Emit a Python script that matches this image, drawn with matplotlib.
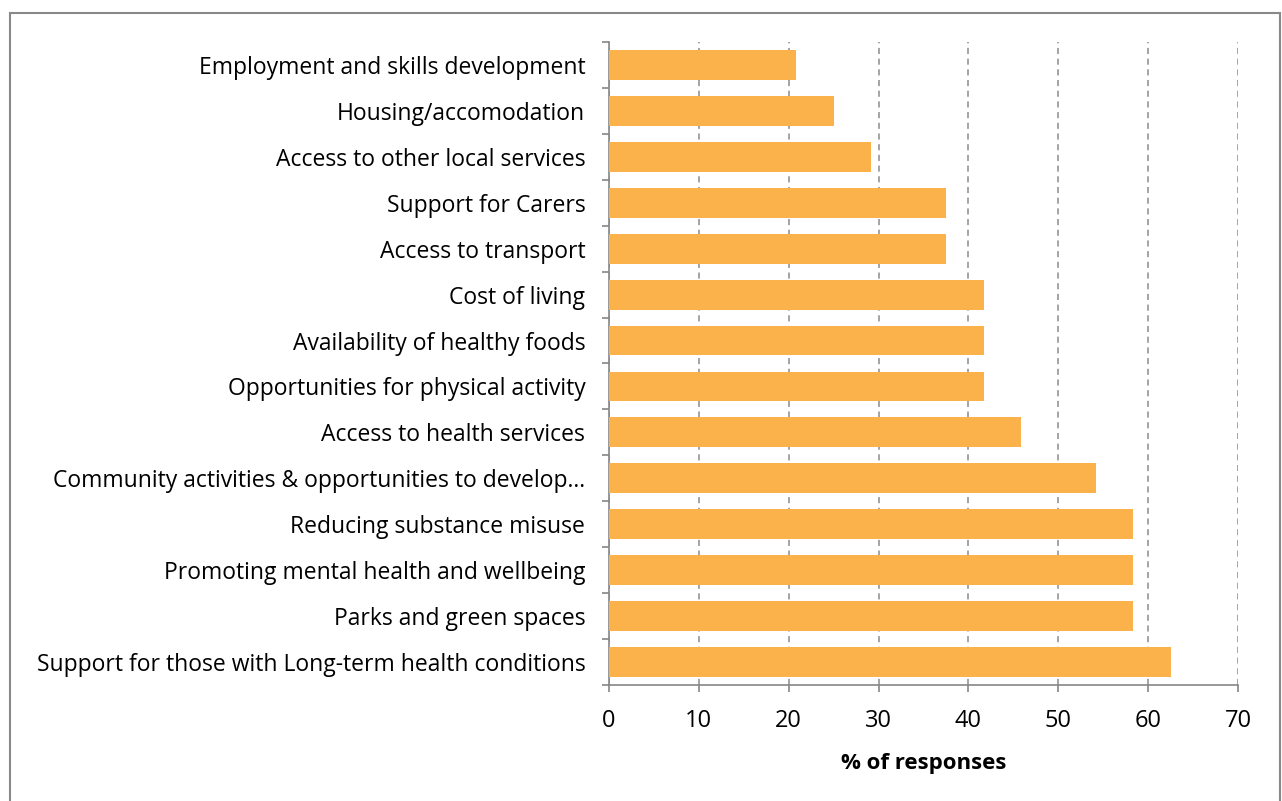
import matplotlib
matplotlib.use("Agg")
import matplotlib.pyplot as plt
from matplotlib.patches import Rectangle

# categories listed top to bottom
categories = [
    "Employment and skills development",
    "Housing/accomodation",
    "Access to other local services",
    "Support for Carers",
    "Access to transport",
    "Cost of living",
    "Availability of healthy foods",
    "Opportunities for physical activity",
    "Access to health services",
    "Community activities & opportunities to develop\u2026",
    "Reducing substance misuse",
    "Promoting mental health and wellbeing",
    "Parks and green spaces",
    "Support for those with Long-term health conditions",
]
percent = [20.8, 25.0, 29.2, 37.5, 37.5, 41.7, 41.7, 41.7, 45.8, 54.2, 58.3, 58.3, 58.3, 62.5]
x_ticks = [0, 10, 20, 30, 40, 50, 60, 70]

plt.rcParams["font.family"] = ["Open Sans", "DejaVu Sans"]

fig = plt.figure(figsize=(12.82, 8.01), dpi=100)
ax = fig.add_axes([0.475, 0.1448, 0.9657 - 0.475, 0.9476 - 0.1448])

ypos = list(range(len(categories)))
ax.barh(ypos, percent, height=0.65, color="#FBB24A", zorder=3)
ax.set_ylim(len(categories) - 0.5, -0.5)
ax.set_xlim(0, 70)

ax.set_yticks(ypos)
ax.set_yticklabels(categories, fontsize=16.5)
ax.set_yticks([i - 0.5 for i in range(len(categories) + 1)], minor=True)
ax.tick_params(axis="y", which="major", length=0, pad=17)
ax.tick_params(axis="y", which="minor", length=5, color="#868686", width=1.2)

ax.set_xticks(x_ticks)
ax.tick_params(axis="x", labelsize=17, length=5, color="#868686", width=1.2, pad=12)
ax.set_xlabel("% of responses", fontsize=16, fontweight="bold", labelpad=15)

ax.grid(axis="x", linestyle=(0, (4, 3)), color="#8c8c8c", linewidth=1.1, zorder=0)
for side in ["top", "right"]:
    ax.spines[side].set_visible(False)
for side in ["left", "bottom"]:
    ax.spines[side].set_color("#868686")
    ax.spines[side].set_linewidth(1.2)

# outer frame around the chart
fig.patches.append(Rectangle((10 / 1282, -0.05), 1270 / 1282, 1.05 - 13 / 801,
                             transform=fig.transFigure, fill=False,
                             edgecolor="#898989", linewidth=1.5))

fig.savefig("out.png", dpi=100)
